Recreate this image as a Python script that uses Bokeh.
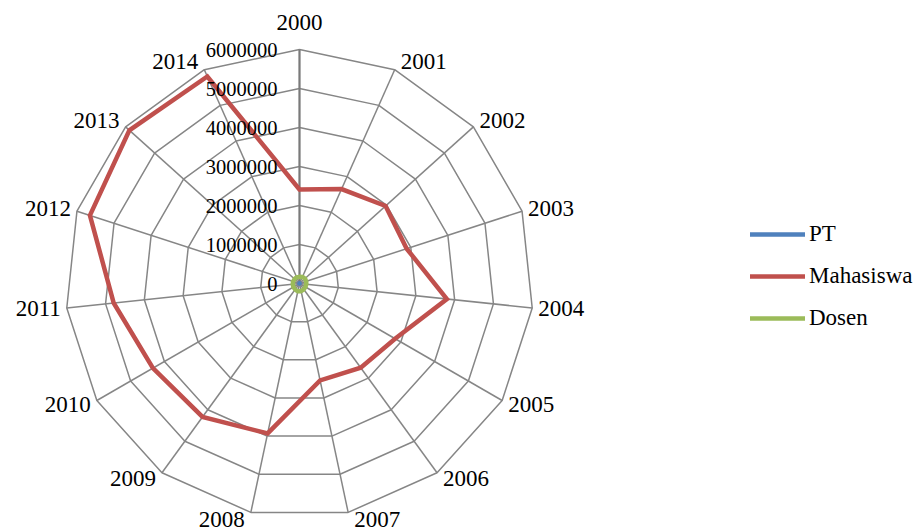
import math
from bokeh.plotting import figure
from bokeh.models import Legend, LegendItem, Label, Range1d
from bokeh.embed import file_html
from bokeh.resources import INLINE

# ---------------- data ----------------
years = ["2000", "2001", "2002", "2003", "2004", "2005", "2006", "2007",
         "2008", "2009", "2010", "2011", "2012", "2013", "2014"]
pt = [2400, 2450, 2550, 2600, 2650, 2700, 2750, 2800,
      2900, 3000, 3100, 3150, 3200, 3250, 3300]
mahasiswa = [2410000, 2650000, 2970000, 2890000, 3800000, 2830000, 2670000, 2540000,
             3930000, 4230000, 4340000, 4790000, 5650000, 5870000, 5810000]
dosen = [170000, 185000, 190000, 180000, 175000, 175000, 185000, 200000,
         205000, 190000, 180000, 175000, 170000, 170000, 175000]
ring_values = [0, 1000000, 2000000, 3000000, 4000000, 5000000, 6000000]
ring_labels = ["0", "1000000", "2000000", "3000000", "4000000", "5000000", "6000000"]

# ---------------- layout ----------------
W, H = 920, 532
CX, CY = 299, 283          # centre of the radar in screen px
R_PX = 234                 # pixel radius of the outer ring
RMAX = ring_values[-1]
S = RMAX / R_PX            # data units per pixel

FONT = "Liberation Serif"
GRID = "#868686"
N = len(years)
angles = [2 * math.pi * i / N for i in range(N)]


def polar(vals):
    xs = [v * math.sin(a) for v, a in zip(vals, angles)]
    ys = [v * math.cos(a) for v, a in zip(vals, angles)]
    return xs + xs[:1], ys + ys[:1]


p = figure(width=W, height=H, output_backend="svg", toolbar_location=None,
           x_range=Range1d(-CX * S, (W - CX) * S),
           y_range=Range1d(-(H - CY) * S, CY * S),
           min_border=0, outline_line_color=None)
p.axis.visible = False
p.grid.visible = False
p.background_fill_color = "white"
p.border_fill_color = "white"

# rings
ring_xs, ring_ys = [], []
for rv in ring_values[1:]:
    xs, ys = polar([rv] * N)
    ring_xs.append(xs)
    ring_ys.append(ys)
p.multi_line(ring_xs, ring_ys, line_color=GRID, line_width=1.5)

# spokes
ox, oy = polar([RMAX] * N)
p.segment(x0=[0] * N, y0=[0] * N, x1=ox[:-1], y1=oy[:-1], line_color=GRID, line_width=1.5)
# value axis (darker)
p.segment(x0=[0], y0=[0], x1=[0], y1=[RMAX], line_color="#7a7a7a", line_width=2)

# series
x, y = polar(pt)
r_pt = p.line(x, y, line_color="#4F81BD", line_width=4.5, line_join="round", line_cap="round")
x, y = polar(mahasiswa)
r_mh = p.line(x, y, line_color="#C0504D", line_width=4.5, line_join="miter", line_cap="round")
x, y = polar(dosen)
r_ds = p.line(x, y, line_color="#9BBB59", line_width=4.5, line_join="round", line_cap="round")

# value labels
for rv, lab in zip(ring_values, ring_labels):
    p.add_layout(Label(x=0, y=rv, x_offset=-22, text=lab, text_align="right",
                       text_baseline="middle", text_font=FONT,
                       text_font_size="20.5px", text_color="black"))

# category labels
for a, yr in zip(angles, years):
    s, c = math.sin(a), math.cos(a)
    if abs(s) < 0.05:
        align, xo, yo = "center", 0, c * 27
    else:
        align = "left" if s > 0 else "right"
        xo = 6 if s > 0 else -6
        yo = c * 9 if c > 0 else c * 7
    p.add_layout(Label(x=RMAX * s, y=RMAX * c, x_offset=xo, y_offset=yo, text=yr,
                       text_align=align, text_baseline="middle", text_font=FONT,
                       text_font_size="23px", text_color="black"))

legend = Legend(items=[LegendItem(label="PT", renderers=[r_pt]),
                       LegendItem(label="Mahasiswa", renderers=[r_mh]),
                       LegendItem(label="Dosen", renderers=[r_ds])],
                location=(750, 201), orientation="vertical",
                glyph_width=55, glyph_height=22, label_height=22, label_width=20,
                label_standoff=4, spacing=16, padding=0, margin=0,
                border_line_color=None, background_fill_alpha=0,
                label_text_font=FONT, label_text_font_size="23px",
                label_text_color="black")
p.add_layout(legend, "center")

open("out.html", "w").write(file_html(p, INLINE))
